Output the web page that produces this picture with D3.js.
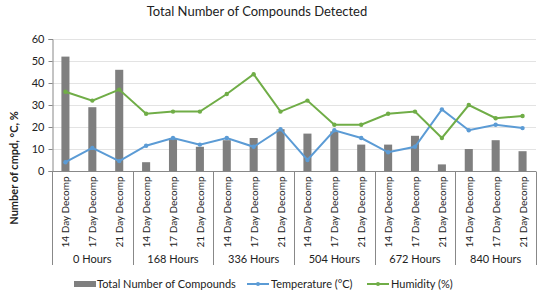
<!DOCTYPE html>
<html>
<head>
<meta charset="utf-8">
<script src="https://cdn.jsdelivr.net/npm/d3@7"></script>
<style>
  body { margin: 0; background: #fff; }
  text { font-family: Lato, "Noto Sans", sans-serif; fill: #222; }
</style>
</head>
<body>
<svg id="drawing_region"></svg>
<script>
const groups = ["0 Hours", "168 Hours", "336 Hours", "504 Hours", "672 Hours", "840 Hours"];
const decomps = ["14 Day Decomp", "17 Day Decomp", "21 Day Decomp"];
const compounds = [52, 29, 46, 4, 15, 11, 14, 15, 19, 17, 18, 12, 12, 16, 3, 10, 14, 9];
const temperature = [4, 10.5, 4.5, 11.5, 15, 12, 15, 11, 19, 5, 18.5, 15, 8.5, 11, 28, 18.5, 21, 19.5];
const humidity = [36, 32, 37, 26, 27, 27, 35, 44, 27, 32, 21, 21, 26, 27, 15, 30, 24, 25];
const yTicks = [0, 10, 20, 30, 40, 50, 60];

const width = 548, height = 296;
const margin = { top: 39, right: 12, bottom: 125, left: 52 };

const svg = d3.select('#drawing_region')
    .attr('width', width)
    .attr('height', height);

const rows = [];
groups.forEach((g, gi) => {
    decomps.forEach((dc, di) => {
        const i = gi * decomps.length + di;
        rows.push({ i: i, group: g, label: dc, compounds: compounds[i], temp: temperature[i], hum: humidity[i] });
    });
});

const x = d3.scaleBand()
    .domain(rows.map(d => d.i))
    .range([margin.left, width - margin.right]);

const y = d3.scaleLinear()
    .domain([0, 60])
    .range([height - margin.bottom, margin.top]);

// title
svg.append('text')
    .attr('x', 257)
    .attr('y', 16)
    .attr('text-anchor', 'middle')
    .style('font-size', '13px')
    .text('Total Number of Compounds Detected');

// grid
svg.append('g')
    .selectAll('line')
    .data(yTicks.filter(t => t > 0))
    .enter()
    .append('line')
    .attr('x1', margin.left)
    .attr('x2', width - margin.right)
    .attr('y1', d => y(d) + 0.5)
    .attr('y2', d => y(d) + 0.5)
    .attr('stroke', '#e3e3e3');

// y axis
const yAxis = svg.append('g')
    .attr('transform', `translate(${margin.left + 0.5},0)`)
    .call(d3.axisLeft(y).tickValues(yTicks).tickSize(4).tickPadding(4));
yAxis.select('.domain').attr('stroke', '#888');
yAxis.selectAll('.tick line').attr('stroke', '#888');
yAxis.selectAll('text').style('font-size', '11px').attr('fill', '#222');

svg.append('text')
    .attr('transform', 'translate(18, 168) rotate(-90)')
    .attr('text-anchor', 'middle')
    .style('font-size', '11px')
    .style('font-weight', 'bold')
    .text('Number of cmpd, °C, %');

// bars
const barW = x.bandwidth() * 0.3;
svg.append('g')
    .selectAll('rect')
    .data(rows)
    .enter()
    .append('rect')
    .attr('x', d => x(d.i) + (x.bandwidth() - barW) / 2)
    .attr('y', d => y(d.compounds))
    .attr('width', barW)
    .attr('height', d => y(0) - y(d.compounds))
    .attr('fill', '#7f7f7f');

// lines
const series = [
    { key: 'temp', color: '#5b9bd5' },
    { key: 'hum', color: '#70ad47' }
];
series.forEach(s => {
    const line = d3.line()
        .x(d => x(d.i) + x.bandwidth() / 2)
        .y(d => y(d[s.key]));
    svg.append('path')
        .datum(rows)
        .attr('d', line)
        .attr('fill', 'none')
        .attr('stroke', s.color)
        .attr('stroke-width', 2);
    svg.append('g')
        .selectAll('circle')
        .data(rows)
        .enter()
        .append('circle')
        .attr('cx', d => x(d.i) + x.bandwidth() / 2)
        .attr('cy', d => y(d[s.key]))
        .attr('r', 2.2)
        .attr('fill', s.color);
});

// x axis baseline
const y0 = y(0) + 0.5;
svg.append('line')
    .attr('x1', margin.left).attr('x2', width - margin.right)
    .attr('y1', y0).attr('y2', y0)
    .attr('stroke', '#888');

// group separators
const seps = d3.range(groups.length + 1).map(k => k === groups.length
    ? x(rows[rows.length - 1].i) + x.bandwidth()
    : x(k * decomps.length));
svg.append('g')
    .selectAll('line')
    .data(seps)
    .enter()
    .append('line')
    .attr('x1', d => Math.round(d) + 0.5)
    .attr('x2', d => Math.round(d) + 0.5)
    .attr('y1', y0)
    .attr('y2', 265)
    .attr('stroke', '#888');

// category labels
svg.append('g')
    .selectAll('text')
    .data(rows)
    .enter()
    .append('text')
    .attr('transform', d => `translate(${x(d.i) + x.bandwidth() / 2 + 4}, ${y0 + 5}) rotate(-90)`)
    .attr('text-anchor', 'end')
    .style('font-size', '10px')
    .text(d => d.label);

// group labels
svg.append('g')
    .selectAll('text')
    .data(groups)
    .enter()
    .append('text')
    .attr('x', (d, gi) => (seps[gi] + seps[gi + 1]) / 2)
    .attr('y', 263)
    .attr('text-anchor', 'middle')
    .style('font-size', '11px')
    .text(d => d);

// legend
const legend = svg.append('g').attr('transform', 'translate(0, 284)');
legend.append('rect')
    .attr('x', 74).attr('y', -3).attr('width', 22).attr('height', 6)
    .attr('fill', '#7f7f7f');
legend.append('text')
    .attr('x', 97).attr('y', 4)
    .style('font-size', '11px')
    .text('Total Number of Compounds');

const legendLines = [
    { x: 247, color: '#5b9bd5', label: 'Temperature (°C)' },
    { x: 367, color: '#70ad47', label: 'Humidity (%)' }
];
legendLines.forEach(l => {
    legend.append('line')
        .attr('x1', l.x).attr('x2', l.x + 22)
        .attr('y1', 0).attr('y2', 0)
        .attr('stroke', l.color).attr('stroke-width', 2);
    legend.append('circle')
        .attr('cx', l.x + 11).attr('cy', 0).attr('r', 2)
        .attr('fill', l.color);
    legend.append('text')
        .attr('x', l.x + 24).attr('y', 4)
        .style('font-size', '11px')
        .text(l.label);
});
</script>
</body>
</html>
